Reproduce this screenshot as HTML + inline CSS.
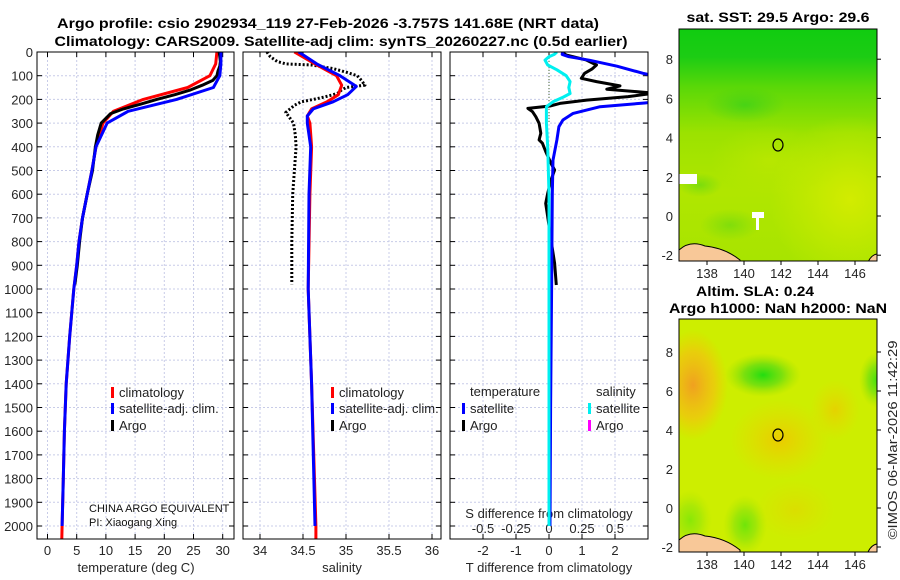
<!DOCTYPE html>
<html><head><meta charset="utf-8"><style>
html,body{margin:0;padding:0;background:#fff;}
svg{display:block;font-family:"Liberation Sans",sans-serif;}
</style></head><body>
<svg id="fig" width="900" height="580" viewBox="0 0 900 580" xmlns="http://www.w3.org/2000/svg">
<defs>
<clipPath id="c1"><rect x="37" y="52" width="197" height="487"/></clipPath>
<clipPath id="c2"><rect x="243" y="52" width="198" height="487"/></clipPath>
<clipPath id="c3"><rect x="450" y="52" width="198" height="487"/></clipPath>
<clipPath id="cm1"><rect x="679" y="29" width="198" height="232"/></clipPath>
<clipPath id="cm2"><rect x="679" y="319" width="198" height="233"/></clipPath>
<linearGradient id="sstg" x1="0" y1="0" x2="0" y2="1">
<stop offset="0" stop-color="#10cc10"/><stop offset="0.12" stop-color="#1ccc14"/><stop offset="0.25" stop-color="#5ad808"/><stop offset="0.45" stop-color="#9ce200"/><stop offset="0.7" stop-color="#b0e600"/><stop offset="1" stop-color="#a8e400"/></linearGradient>
<radialGradient id="yel1"><stop offset="0" stop-color="#d4ec00" stop-opacity="0.95"/><stop offset="1" stop-color="#d0ec00" stop-opacity="0"/></radialGradient>
<radialGradient id="grn1"><stop offset="0" stop-color="#22cc22" stop-opacity="0.9"/><stop offset="1" stop-color="#33cc22" stop-opacity="0"/></radialGradient>
<radialGradient id="org1"><stop offset="0" stop-color="#f0a020"/><stop offset="0.6" stop-color="#f4c010" stop-opacity="0.7"/><stop offset="1" stop-color="#f4c800" stop-opacity="0"/></radialGradient>
<radialGradient id="org2"><stop offset="0" stop-color="#f4c000"/><stop offset="1" stop-color="#f0d000" stop-opacity="0"/></radialGradient>
<radialGradient id="grn2"><stop offset="0" stop-color="#22dd11"/><stop offset="0.5" stop-color="#66dd11" stop-opacity="0.8"/><stop offset="1" stop-color="#99e000" stop-opacity="0"/></radialGradient>
</defs>
<g id="titles" font-weight="bold" font-size="13.5" fill="#000" text-anchor="middle">
<text x="328" y="28" textLength="542" lengthAdjust="spacingAndGlyphs">Argo profile: csio 2902934_119 27-Feb-2026 -3.757S 141.68E (NRT data)</text>
<text x="341" y="46" textLength="573" lengthAdjust="spacingAndGlyphs">Climatology: CARS2009. Satellite-adj clim: synTS_20260227.nc (0.5d earlier)</text>
<text x="778" y="22" textLength="183" lengthAdjust="spacingAndGlyphs">sat. SST: 29.5 Argo: 29.6</text>
<text x="755" y="296" textLength="118" lengthAdjust="spacingAndGlyphs">Altim. SLA: 0.24</text>
<text x="778" y="313" textLength="218" lengthAdjust="spacingAndGlyphs">Argo h1000: NaN h2000: NaN</text>
</g>
<g id="panels"></g>
<g id="maps">
<g clip-path="url(#cm1)">
<rect x="679" y="29" width="198" height="232" fill="url(#sstg)"/>
<ellipse cx="850" cy="200" rx="80" ry="85" fill="url(#yel1)"/>
<ellipse cx="770" cy="160" rx="60" ry="35" fill="url(#yel1)" opacity="0.4"/>
<ellipse cx="745" cy="105" rx="40" ry="18" fill="url(#grn1)" opacity="0.6"/>
<ellipse cx="700" cy="185" rx="22" ry="12" fill="url(#grn1)" opacity="0.4"/>
<ellipse cx="730" cy="225" rx="30" ry="16" fill="url(#grn1)" opacity="0.35"/>
<rect x="679" y="174" width="18" height="10" fill="#fff"/>
<rect x="752" y="212" width="12" height="6" fill="#fff"/><rect x="756" y="212" width="3" height="18" fill="#fff"/>
<path d="M679,250 Q690,240 705,246 Q725,248 740,260 L740,262 L679,262Z" fill="#f8c898" stroke="#000" stroke-width="1"/>
<path d="M868,262 Q872,254 878,254 L878,262Z" fill="#f8c898" stroke="#000" stroke-width="1"/>
<ellipse cx="778" cy="145" rx="5" ry="6" fill="none" stroke="#000" stroke-width="1.2"/>
</g>
<rect x="679" y="29" width="198" height="232" fill="none" stroke="#000" stroke-width="1"/>
<g clip-path="url(#cm2)">
<rect x="679" y="319" width="198" height="233" fill="#cdee00"/>
<ellipse cx="693" cy="385" rx="35" ry="55" fill="url(#org1)"/>
<ellipse cx="780" cy="440" rx="50" ry="40" fill="url(#org2)" opacity="0.75"/>
<ellipse cx="835" cy="410" rx="25" ry="30" fill="url(#org2)" opacity="0.6"/>
<ellipse cx="795" cy="510" rx="40" ry="30" fill="url(#org2)" opacity="0.35"/>
<ellipse cx="763" cy="375" rx="38" ry="22" fill="url(#grn2)"/>
<ellipse cx="877" cy="380" rx="18" ry="28" fill="url(#grn2)" opacity="0.8"/>
<ellipse cx="745" cy="525" rx="22" ry="30" fill="url(#grn2)" opacity="0.55"/>
<ellipse cx="690" cy="520" rx="22" ry="30" fill="url(#grn2)" opacity="0.4"/>
<path d="M679,540 Q690,530 705,536 Q725,538 740,550 L740,552 L679,552Z" fill="#f8c898" stroke="#000" stroke-width="1"/>
<path d="M868,552 Q872,544 878,544 L878,552Z" fill="#f8c898" stroke="#000" stroke-width="1"/>
<ellipse cx="778" cy="435" rx="5" ry="6" fill="none" stroke="#000" stroke-width="1.2"/>
</g>
<rect x="679" y="319" width="198" height="233" fill="none" stroke="#000" stroke-width="1"/>
</g>
<text transform="translate(897,440) rotate(-90)" text-anchor="middle" font-size="13" fill="#262626" textLength="199" lengthAdjust="spacingAndGlyphs">©IMOS 06-Mar-2026 11:42:29</text>
</svg>
<script>
// ---- data ----
const tClimDepth=[0,50,100,150,200,250,300,400,500,600,700,800,900,1000,1200,1400,1600,1800,2000,2055];
const tClim=[29.0,28.8,27.8,24.0,16.4,11.3,9.5,8.3,7.6,6.8,6.0,5.4,5.0,4.5,3.8,3.2,2.9,2.7,2.5,2.45];
const tSatDepth=[0,50,100,150,200,250,300,400,500,600,700,800,900,1000,1200,1400,1600,1800,2000];
const tSat=[29.7,29.7,29.5,28.4,22.1,13.8,10.2,8.3,7.6,6.8,6.0,5.4,5.0,4.5,3.8,3.2,2.9,2.7,2.5];
const tArgoDepth=[0,20,40,60,80,100,120,140,160,180,200,220,240,260,300,350,400,500,600,700,800,900,980];
const tArgo=[29.4,29.5,29.6,29.5,29.2,29.0,28.3,26.5,24.5,21.8,18.7,16.0,13.0,10.8,9.2,8.6,8.2,7.7,6.8,6.0,5.5,5.1,4.7];
const sClimDepth=[0,50,100,140,180,210,240,270,300,400,600,1000,1400,2000,2055];
const sClim=[34.4,34.64,34.89,34.95,34.91,34.78,34.6,34.55,34.58,34.6,34.58,34.56,34.6,34.65,34.65];
const sSatDepth=[0,50,100,145,180,210,240,270,300,400,600,1000,1400,2000];
const sSat=[34.45,34.66,34.93,35.12,35.02,34.85,34.62,34.55,34.55,34.59,34.57,34.56,34.6,34.64];
const sArgoDepth=[0,20,40,50,55,70,85,100,120,140,150,160,175,190,200,210,225,240,255,270,300,350,400,500,600,800,980];
const sArgo=[34.08,34.12,34.2,34.3,34.6,34.85,35.0,35.13,35.18,35.22,35.0,34.95,34.9,34.75,34.62,34.48,34.4,34.35,34.3,34.33,34.39,34.41,34.42,34.4,34.38,34.37,34.37];
const dTSatDepth=[0,10,20,35,60,90,110,150,200,215,231,259,287,315,371,456,600,1000,1500,2000];
const dTSat=[0.42,0.4,0.6,1.24,2.06,2.85,3.5,5,4,2.9,1.55,0.73,0.42,0.3,0.24,0.12,0.1,0.08,0.05,0.03];
const dTArgoDepth=[0,13,34,55,72,90,111,125,143,157,174,188,203,217,228,238,252,273,301,343,371,385,420,470,498,540,596,639,695,793,891,983];
const dTArgo=[0.38,0.53,1.14,1.44,1.3,1.08,0.98,1.44,2.15,1.75,3.2,2.4,1.14,0.33,0.03,-0.64,-0.5,-0.4,-0.3,-0.25,-0.3,-0.2,-0.1,0.06,0.17,0.06,-0.04,-0.1,-0.04,0.06,0.17,0.22];
const dSSatDepth=[0,10,20,34,55,75,100,125,150,175,190,210,231,259,300,400,600,1000,2000];
const dSSat=[0.06,0.04,0.0,-0.03,-0.01,0.06,0.13,0.16,0.15,0.16,0.11,0.03,-0.02,-0.02,-0.02,-0.01,0,0,0];
const depthTicks=[0,100,200,300,400,500,600,700,800,900,1000,1100,1200,1300,1400,1500,1600,1700,1800,1900,2000];
const tTicks=[0,5,10,15,20,25,30];
const sTicks=[34,34.5,35,35.5,36];
const dTTicks=[-2,-1,0,1,2];
const dSTicks=[-0.5,-0.25,0,0.25,0.5];
const dSTickLabels=["-0.5","-0.25","0","0.25","0.5"];
const mapLonTicks=[138,140,142,144,146];
const mapLatTicks=[8,6,4,2,0,-2];

// ---- scales ----
const NS="http://www.w3.org/2000/svg";
const yD=d=>52+d*0.237;
const xT=t=>47.5+t*5.84;
const xS=s=>260+(s-34)*86;
const xDT=v=>549+v*33;
const xDS=v=>549+v*132;
const lonX=l=>707+(l-138)*18.5;
const latY1=l=>216-l*19.6;
const latY2=l=>508-l*19.5;

const root=document.getElementById('panels');
function mk(tag,attrs,parent){const e=document.createElementNS(NS,tag);for(const k in attrs)e.setAttribute(k,attrs[k]);(parent||root).appendChild(e);return e;}
function txt(x,y,s,anchor,size,parent,fill){const e=mk('text',{x:x,y:y,'text-anchor':anchor||'middle','font-size':size||13,fill:fill||'#262626'},parent);e.textContent=s;return e;}

const panels=[{x0:37,x1:234,clip:'c1',name:'temperature'},{x0:243,x1:441,clip:'c2',name:'salinity'},{x0:450,x1:648,clip:'c3',name:'difference'}];
const vgrid=[tTicks.map(xT),sTicks.map(xS),dTTicks.map(xDT)];
panels.forEach((p,i)=>{
  const g=mk('g',{});
  
  
  p.g=g;
  depthTicks.forEach(d=>{
    const l=mk('line',{x1:p.x0,x2:p.x1,y1:yD(d),y2:yD(d),stroke:'#c8cce8','stroke-width':1,'stroke-dasharray':'2,2'},g);
    
    
    mk('line',{x1:p.x0,x2:p.x0+5,y1:yD(d),y2:yD(d),stroke:'#000'},g);
    mk('line',{x1:p.x1-5,x2:p.x1,y1:yD(d),y2:yD(d),stroke:'#000'},g);
  });
  vgrid[i].forEach(x=>{
    const l=mk('line',{x1:x,x2:x,y1:52,y2:539,stroke:'#c8cce8','stroke-width':1,'stroke-dasharray':'2,2'},g);
    
    
    mk('line',{x1:x,x2:x,y1:534,y2:539,stroke:'#000'},g);
    mk('line',{x1:x,x2:x,y1:52,y2:57,stroke:'#000'},g);
  });
});

depthTicks.forEach(d=>{
  const t=txt(33,yD(d)+5,String(d),'end',13,panels[0].g);
  
  
});
tTicks.forEach(v=>{const t=txt(xT(v),555,String(v),'middle',13,panels[0].g);
  
  });
sTicks.forEach(v=>{const t=txt(xS(v),555,String(v),'middle',13,panels[1].g);
  
  });
dTTicks.forEach(v=>{const t=txt(xDT(v),555,String(v),'middle',13,panels[2].g);
  
  });
dSTicks.forEach((v,i)=>{const t=txt(xDS(v),533,dSTickLabels[i],'middle',13,panels[2].g);
  
  });
let at=txt(136,572,'temperature (deg C)','middle',13,panels[0].g);


at=txt(342,572,'salinity','middle',13,panels[1].g);


at=txt(549,572,'T difference from climatology','middle',13,panels[2].g);


at=txt(549,518,'S difference from climatology','middle',13,panels[2].g);



mk('line',{x1:549,x2:549,y1:52,y2:yD(300),stroke:'#446633','stroke-width':1,'stroke-dasharray':'1,2'},panels[2].g);

function series(depths,vals,xf,color,p,name,dash,w){
  const pts=depths.map((d,i)=>xf(vals[i]).toFixed(1)+','+yD(d).toFixed(1)).join(' ');
  const l=mk('polyline',{points:pts,fill:'none',stroke:color,'stroke-width':w||3,'stroke-linejoin':'round','clip-path':'url(#'+p.clip+')'},p.g);
  if(dash){l.setAttribute('stroke-dasharray',dash);l.setAttribute('stroke-linecap','butt');}
  
  
}
const P=panels;
series(tClimDepth,tClim,xT,'#ff0000',P[0],'temperature-climatology-line');
series(tArgoDepth,tArgo,xT,'#000000',P[0],'temperature-argo-line');
series(tSatDepth,tSat,xT,'#0000ff',P[0],'temperature-satellite-line');
series(sArgoDepth,sArgo,xS,'#000000',P[1],'salinity-argo-line','2,2',3);
series(sClimDepth,sClim,xS,'#ff0000',P[1],'salinity-climatology-line');
series(sSatDepth,sSat,xS,'#0000ff',P[1],'salinity-satellite-line');
series(dTArgoDepth,dTArgo,xDT,'#000000',P[2],'t-diff-argo-line');
series(dTSatDepth,dTSat,xDT,'#0000ff',P[2],'t-diff-satellite-line');
series(dSSatDepth,dSSat,xDS,'#00f0f0',P[2],'s-diff-satellite-line');

P.forEach(p=>{mk('rect',{x:p.x0,y:52,width:p.x1-p.x0,height:487,fill:'none',stroke:'#000','stroke-width':1},p.g);});

function legItem(x,y,color,label,g,name){
  const m=mk('rect',{x:x,y:y-10,width:3,height:11,fill:color},g);
  
  
  const t=txt(x+8,y,label,'start',13,g,'#222');
  
  
}
[[P[0],111],[P[1],331]].forEach(([p,x])=>{
  const lg=mk('g',{},p.g);
  
  
  legItem(x,397,'#ff0000','climatology',lg,'legend-climatology');
  legItem(x,413,'#0000ff','satellite-adj. clim.',lg,'legend-satellite');
  legItem(x,430,'#000000','Argo',lg,'legend-argo');
});
const lg3=mk('g',{},P[2].g);


txt(470,396,'temperature','start',13,lg3,'#222');
txt(596,396,'salinity','start',13,lg3,'#222');
legItem(462,413,'#0000ff','satellite',lg3,'legend-t-satellite');
legItem(462,430,'#000000','Argo',lg3,'legend-t-argo');
legItem(588,413,'#00f0f0','satellite',lg3,'legend-s-satellite');
legItem(588,430,'#ff00ff','Argo',lg3,'legend-s-argo');

let n=txt(89,512,'CHINA ARGO EQUIVALENT','start',11,P[0].g,'#111');


n=txt(89,526,'PI: Xiaogang Xing','start',11,P[0].g,'#111');



const mg=document.getElementById('maps');
[[29,261,latY1],[319,552,latY2]].forEach(([y0,y1,ly])=>{
  mapLonTicks.forEach(l=>{
    const t=txt(lonX(l),y1+17,String(l),'middle',13,mg);
    
    
    mk('line',{x1:lonX(l),x2:lonX(l),y1:y1,y2:y1+4,stroke:'#000'},mg);
  });
  mapLatTicks.forEach(l=>{
    const t=txt(673,ly(l)+5,String(l),'end',13,mg);
    
    
    mk('line',{x1:877,x2:881,y1:ly(l),y2:ly(l),stroke:'#000'},mg);
  });
});
</script>
</body></html>
